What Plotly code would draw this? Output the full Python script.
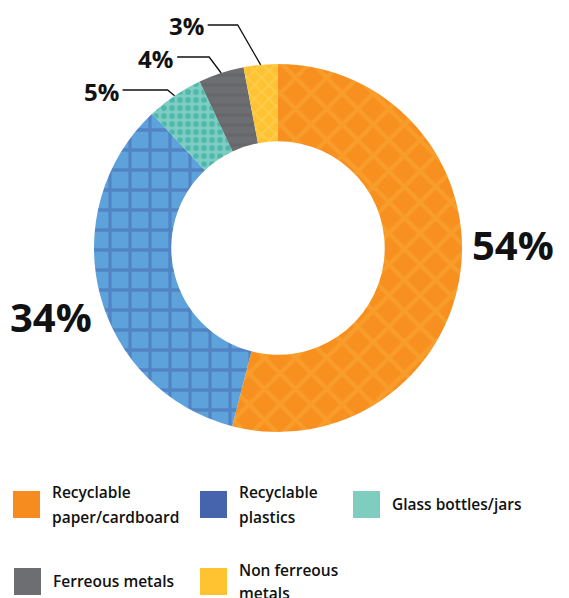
import math
import plotly.graph_objects as go

categories = ["Recyclable paper/cardboard", "Recyclable plastics", "Glass bottles/jars",
              "Ferreous metals", "Non ferreous metals"]
values = [54, 34, 5, 4, 3]
legend_lines = [["Recyclable", "paper/cardboard"], ["Recyclable", "plastics"], ["Glass bottles/jars"],
                ["Ferreous metals"], ["Non ferreous", "metals"]]
pct_labels = ["54%", "34%", "5%", "4%", "3%"]

bg_colors = ["#F7901E", "#5DA2DB", "#7ECDC0", "#6D6E71", "#FFC233"]
fg_colors = ["#FBA936", "#4563AF", "#1BA39C", "#5E5F62", "#FFD964"]
legend_colors = ["#F68B1F", "#4664AE", "#7FCDBE", "#6D6E71", "#FFC230"]
shapes_pat = ["x", "+", ".", "-", "x"]

W, H = 569, 598
CX, CY, R = 278, 248, 184
HOLE = 0.58


def px(x):
    return x / W


def py(y):
    return 1 - y / H


fig = go.Figure()
fig.add_trace(go.Pie(
    labels=categories, values=values, sort=False, direction="clockwise", rotation=0,
    hole=HOLE, textinfo="none", hoverinfo="label+percent",
    marker=dict(colors=bg_colors, line=dict(width=0),
                pattern=dict(shape=shapes_pat, fgcolor=fg_colors, bgcolor=bg_colors,
                             size=[22, 20, 8, 10, 10], solidity=[0.35, 0.3, 0.4, 0.3, 0.3],
                             fillmode="overlay")),
    domain=dict(x=[px(CX - R), px(CX + R)], y=[py(CY + R), py(CY - R)]),
    showlegend=False,
))

# mid angles (clockwise from top)
total = sum(values)
mids = []
cum = 0
for v in values:
    mids.append((cum + v / 2) / total * 360)
    cum += v

annotations = []
shapes = []
big_font = dict(family="Open Sans", size=40, color="#111111", weight=700)
small_font = dict(family="Open Sans", size=24, color="#111111", weight=700)

# big labels (radial placement)
big_dy = {0: -33, 1: 10}
big_dx = {0: 0, 1: 3}
for i in (0, 1):
    a = math.radians(mids[i])
    rr = 237
    x = CX + rr * math.sin(a) + big_dx[i]
    y = CY - rr * math.cos(a) + big_dy[i]
    annotations.append(dict(x=px(x), y=py(y), xref="paper", yref="paper", text=pct_labels[i],
                            showarrow=False, font=big_font, xanchor="center", yanchor="middle"))

# small labels with leader lines
label_y = {2: 90, 3: 57, 4: 25}
elbow_dx = {2: 7, 3: 12, 4: 23}
hlen = {2: 45, 3: 32, 4: 30}
for i in (2, 3, 4):
    a = math.radians(mids[i])
    x0 = CX + R * math.sin(a)
    y0 = CY - R * math.cos(a)
    ey = label_y[i]
    ex = x0 - elbow_dx[i]
    hx = ex - hlen[i]
    path = f"M {px(x0)},{py(y0)} L {px(ex)},{py(ey)} L {px(hx)},{py(ey)}"
    shapes.append(dict(type="path", xref="paper", yref="paper", path=path,
                       line=dict(color="#111111", width=1.3)))
    annotations.append(dict(x=px(hx - 2), y=py(ey + 1), xref="paper", yref="paper", text=pct_labels[i],
                            showarrow=False, font=small_font, xanchor="right", yanchor="middle"))

# legend
leg_pos = [(13, 491), (200, 491), (353, 491), (14, 568), (200, 568)]
leg_line_y = [[492, 517], [492, 517], [504], [581], [570, 593]]
sq = 27
legend_font = dict(family="Open Sans", size=15.5, color="#111111", weight=600)
for i, (lx, ly) in enumerate(leg_pos):
    shapes.append(dict(type="rect", xref="paper", yref="paper",
                       x0=px(lx), x1=px(lx + sq), y0=py(ly + sq), y1=py(ly),
                       fillcolor=legend_colors[i], line=dict(width=0)))
    for line, ty in zip(legend_lines[i], leg_line_y[i]):
        annotations.append(dict(x=px(lx + sq + 10), y=py(ty), xref="paper", yref="paper",
                                text=line, showarrow=False, font=legend_font,
                                xanchor="left", yanchor="middle", align="left"))

fig.update_layout(width=W, height=H, margin=dict(l=0, r=0, t=0, b=0),
                  paper_bgcolor="white", plot_bgcolor="white",
                  shapes=shapes, annotations=annotations)

fig.write_html("out.html")
